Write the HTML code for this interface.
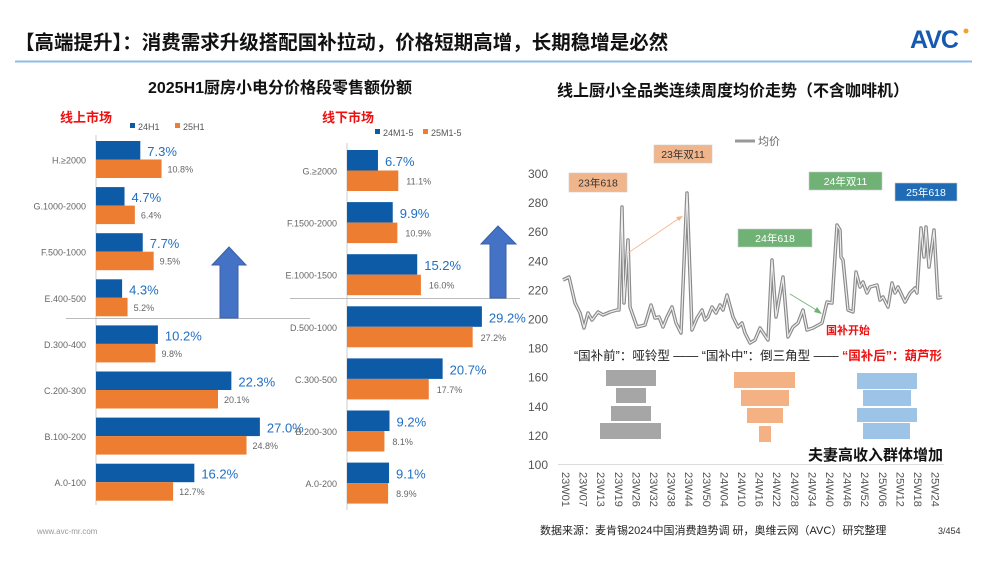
<!DOCTYPE html>
<html><head><meta charset="utf-8"><style>
html,body{margin:0;padding:0;background:#fff;}
svg{display:block;font-family:"Liberation Sans","Noto Sans CJK SC",sans-serif;}
</style></head><body>
<svg id="s" width="1000" height="562" viewBox="0 0 1000 562" xmlns="http://www.w3.org/2000/svg">
<rect width="1000" height="562" fill="#fff"/>
<text x="15" y="49" font-size="19.5" font-weight="bold" fill="#111">【高端提升】：消费需求升级搭配国补拉动，价格短期高增，长期稳增是必然</text>
<line x1="15" y1="61.5" x2="972" y2="61.5" stroke="#8cbde8" stroke-width="2"/>
<text x="910" y="48" font-size="25" font-weight="bold" fill="#1659b0" letter-spacing="-1">AVC</text>
<circle cx="966" cy="31" r="2.5" fill="#f0a030"/>
<text x="280" y="93" font-size="16" font-weight="bold" fill="#111" text-anchor="middle">2025H1厨房小电分价格段零售额份额</text>
<text x="733" y="96" font-size="16" font-weight="bold" fill="#111" text-anchor="middle">线上厨小全品类连续周度均价走势（不含咖啡机）</text>
<text x="60" y="122" font-size="13" font-weight="bold" fill="#f01010">线上市场</text>
<rect x="130" y="123" width="5" height="5" fill="#0d5aa7"/><text x="138" y="130" font-size="9" fill="#555">24H1</text>
<rect x="175" y="123" width="5" height="5" fill="#ed7d31"/><text x="183" y="130" font-size="9" fill="#555">25H1</text>
<text x="322" y="122" font-size="13" font-weight="bold" fill="#f01010">线下市场</text>
<rect x="375" y="129" width="5" height="5" fill="#0d5aa7"/><text x="383" y="136" font-size="9" fill="#555">24M1-5</text>
<rect x="423" y="129" width="5" height="5" fill="#ed7d31"/><text x="431" y="136" font-size="9" fill="#555">25M1-5</text>
<g id="bars"></g>
<line x1="66" y1="318.5" x2="310" y2="318.5" stroke="#bbb"/>
<line x1="290" y1="298.5" x2="520" y2="298.5" stroke="#bbb"/>
<polygon points="212,265 229,247 246,265 238,265 238,318 220,318 220,265" fill="#4472c4" stroke="#3a60a8"/>
<polygon points="481,244 498,226 516,244 506,244 506,298 490,298 490,244" fill="#4472c4" stroke="#3a60a8"/>
<g id="line"></g>
<text x="826" y="334" font-size="11" font-weight="bold" fill="#f01010">国补开始</text>
<text x="574" y="360" font-size="12.5" fill="#222">“国补前”：哑铃型 —— “国补中”：倒三角型 —— <tspan fill="#f01010" font-weight="bold">“国补后”：葫芦形</tspan></text>
<g id="fun"></g>
<text x="808" y="460" font-size="15" font-weight="bold" fill="#111">夫妻高收入群体增加</text>
<text x="37" y="534" font-size="8" fill="#999">www.avc-mr.com</text>
<text x="540" y="534" font-size="11" fill="#222">数据来源：麦肯锡2024中国消费趋势调 研，奥维云网（AVC）研究整理</text>
<text x="938" y="534" font-size="9" fill="#333">3/454</text>
</svg>
<script>
var out="";
function R(x,y,w,h,f){out+='<rect x="'+x+'" y="'+y+'" width="'+w+'" height="'+h+'" fill="'+f+'"/>';}
function T(x,y,t,sz,f,a){out+='<text x="'+x+'" y="'+y+'" font-size="'+sz+'" fill="'+f+'"'+(a?' text-anchor="'+a+'"':'')+'>'+t+'</text>';}
var L=[["H.≥2000",7.3,10.8],["G.1000-2000",4.7,6.4],["F.500-1000",7.7,9.5],["E.400-500",4.3,5.2],["D.300-400",10.2,9.8],["C.200-300",22.3,20.1],["B.100-200",27.0,24.8],["A.0-100",16.2,12.7]];
out+='<line x1="96" y1="135" x2="96" y2="505" stroke="#ccc"/>';
L.forEach(function(d,i){var y=141+i*46.1,h=18.5;R(96,y,d[1]*6.07,h,"#0d5aa7");R(96,y+h,d[2]*6.07,h,"#ed7d31");
T(96+d[1]*6.07+7,y+15,d[1].toFixed(1)+"%",13,"#1f6fc5");T(96+d[2]*6.07+6,y+h+13,d[2].toFixed(1)+"%",9,"#666");T(86,y+h+4,d[0],9,"#666","end");});
var Rr=[["G.≥2000",6.7,11.1],["F.1500-2000",9.9,10.9],["E.1000-1500",15.2,16.0],["D.500-1000",29.2,27.2],["C.300-500",20.7,17.7],["B.200-300",9.2,8.1],["A.0-200",9.1,8.9]];
out+='<line x1="347" y1="143" x2="347" y2="510" stroke="#ccc"/>';
Rr.forEach(function(d,i){var y=150+i*52.1,h=20.5;R(347,y,d[1]*4.62,h,"#0d5aa7");R(347,y+h,d[2]*4.62,h,"#ed7d31");
T(347+d[1]*4.62+7,y+16,d[1].toFixed(1)+"%",13,"#1f6fc5");T(347+d[2]*4.62+8,y+h+14,d[2].toFixed(1)+"%",9,"#666");T(337,y+h+4,d[0],9,"#666","end");});
document.getElementById("bars").innerHTML=out;out="";
for(var v=100;v<=300;v+=20){var y=464-(v-100)*1.455;T(548,y+5,v,12,"#555","end");}
out+='<line x1="558" y1="464.5" x2="944" y2="464.5" stroke="#ddd"/>';
var labs=["23W01","23W07","23W13","23W19","23W26","23W32","23W38","23W44","23W50","24W04","24W10","24W16","24W22","24W28","24W34","24W40","24W46","24W52","25W06","25W12","25W18","25W24"];
labs.forEach(function(l,i){var x=566+i*17.6;out+='<text transform="translate('+(x-4)+',472) rotate(90)" font-size="11" fill="#555">'+l+'</text>';});
var p="563,280 569,277 575,303 580,313 584,328 588,313 592,320 598,312 603,315 610,312 617,310 619,310 622,207 624,303 628,240 630,307 637,327 645,325 651,305 655,318 659,317 663,327 667,317 672,307 676,323 681,333 687,193 692,330 697,318 702,310 705,320 708,317 712,307 716,313 720,305 723,310 727,295 733,317 738,327 742,323 745,333 750,343 755,340 760,328 768,340 772,260 776,317 783,277 788,337 793,327 798,323 803,310 807,330 813,328 822,323 827,302 832,303 837,225 840,230 841,257 843,260 848,310 853,312 856,272 860,287 863,282 867,293 870,287 877,285 880,300 883,297 888,307 892,283 895,293 898,287 905,302 910,293 915,288 917,293 921,228 924,257 926,227 929,267 934,230 938,298 942,297";
out+='<polyline points="'+p+'" fill="none" stroke="#8a8a8a" stroke-width="3.5" stroke-linejoin="round"/>';
out+='<polyline points="'+p+'" fill="none" stroke="#eee" stroke-width="1.2" stroke-linejoin="round"/>';
out+='<line x1="735" y1="141" x2="755" y2="141" stroke="#999" stroke-width="3"/>';T(758,145,"均价",11,"#666");
function B(x,y,w,h,f,t,tc){R(x,y,w,h,f);out+='<rect x="'+x+'" y="'+y+'" width="'+w+'" height="'+h+'" fill="none" stroke="#ccc" stroke-width="0.6"/>';T(x+w/2,y+h/2+4,t,10.5,tc,"middle");}
B(569,173,58,19,"#f1b58c","23年618","#333");B(654,145,58,18,"#f1b58c","23年双11","#333");
B(738,229,74,18,"#70b276","24年618","#fff");B(809,172,73,18,"#70b276","24年双11","#fff");B(895,183,62,18,"#1f6bb5","25年618","#fff");
out+='<line x1="628" y1="253" x2="681" y2="217" stroke="#f4b48a" stroke-width="0.8"/><polygon points="683,216 676,217 679,221" fill="#f4b48a"/>';
out+='<line x1="790" y1="294" x2="818" y2="311" stroke="#70b276" stroke-width="0.8"/><polygon points="822,314 814,312 817,307" fill="#70b276"/>';
document.getElementById("line").innerHTML=out;out="";
[[606,370,50,16],[616,388,30,15],[611,406,40,15],[600,423,61,16]].forEach(function(r){R(r[0],r[1],r[2],r[3],"#a6a6a6");});
[[734,372,61,16],[741,390,48,16],[747,408,36,15],[759,426,12,16]].forEach(function(r){R(r[0],r[1],r[2],r[3],"#f4b183");});
[[857,373,60,16],[863,390,48,16],[857,408,60,14],[863,423,47,16]].forEach(function(r){R(r[0],r[1],r[2],r[3],"#9dc3e6");});
document.getElementById("fun").innerHTML=out;
</script>
</body></html>
